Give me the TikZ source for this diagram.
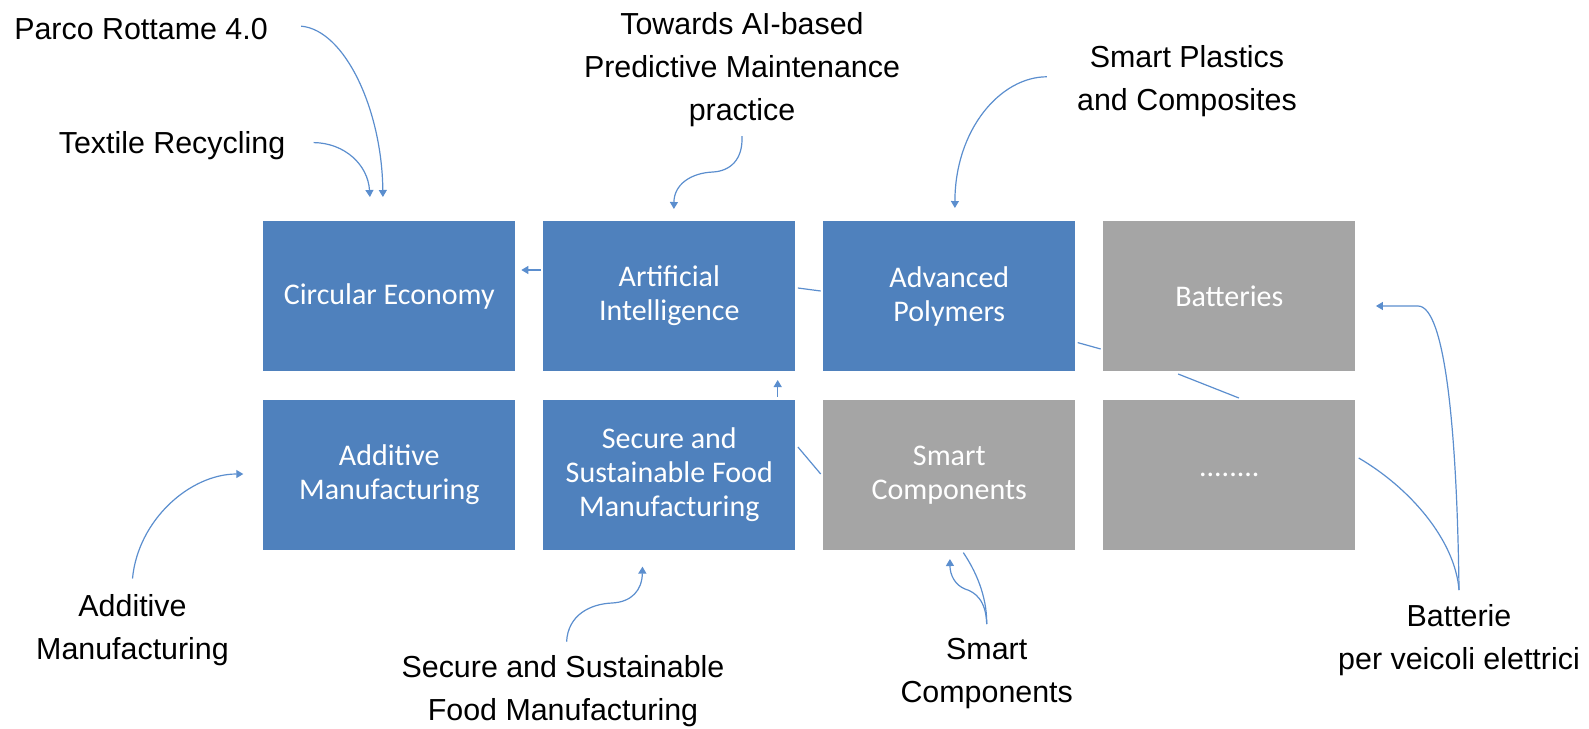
\documentclass[tikz,border=0pt]{standalone}
\usepackage{fontspec}
\setmainfont{Liberation Sans}
\newfontfamily\boxfont{Carlito}
\usetikzlibrary{positioning,arrows.meta}
\definecolor{accblue}{RGB}{79,129,189}
\definecolor{accgray}{RGB}{165,165,165}
\definecolor{linkblue}{RGB}{91,142,206}

\begin{document}
\begin{tikzpicture}
  [x=0.5pt, y=-0.5pt, node distance=14pt,
   box/.style={minimum width=126pt, minimum height=75pt, inner sep=2pt, outer sep=0pt,
     align=center, text=white, font=\boxfont\fontsize{15}{17}\selectfont},
   bluebox/.style={box, fill=accblue},
   graybox/.style={box, fill=accgray},
   lbl/.style={anchor=north, inner sep=0pt, align=center, font=\fontsize{15.2}{21.5}\selectfont},
   link/.style={draw=linkblue, line width=0.6pt},
   arr/.style={link, -{Triangle[width=4pt,length=3.5pt]}}]
  \useasboundingbox (0,0) rectangle (1589,728);

  \node[bluebox] (ce) at (389.3,296) {Circular Economy};
  \node[bluebox, right=of ce] (ai) {Artificial\\Intelligence};
  \node[bluebox, right=of ai] (ap) {Advanced\\Polymers};
  \node[graybox, right=of ap] (bat) {Batteries};
  \node[bluebox, below=14.5pt of ce] (am) {Additive\\Manufacturing};
  \node[bluebox, right=of am] (food) {Secure and\\Sustainable Food\\Manufacturing};
  \node[graybox, right=of food] (sc) {Smart\\Components};
  \node[graybox, right=of sc] (dots) {........};

  \node[lbl] (parco) at (141,18) {Parco Rottame 4.0};
  \node[lbl] (textile) at (172,131) {Textile Recycling};
  \node[lbl] (towards) at (742,12) {Towards AI-based\\Predictive Maintenance\\practice};
  \node[lbl] (plastics) at (1187,44.7) {Smart Plastics\\and Composites};
  \node[lbl] (addl) at (132.5,594.5) {Additive\\Manufacturing};
  \node[lbl] (secure) at (563,654.7) {Secure and Sustainable\\Food Manufacturing};
  \node[lbl] (smartc) at (986.7,638) {Smart\\Components};
  \node[lbl] (batl) at (1459,604) {Batterie\\per veicoli elettrici};

  \draw[arr] ([xshift=-1.3pt,yshift=13pt]ai.west) -- ([xshift=3pt,yshift=13pt]ce.east);
  \draw[link] ([xshift=1.3pt,yshift=4pt]ai.east) -- ([xshift=-1.3pt,yshift=2.5pt]ap.west);
  \draw[link] ([xshift=1.2pt,yshift=-23.3pt]ap.east) -- ([xshift=-1.3pt,yshift=-26.5pt]bat.west);
  \draw[link] ([xshift=-25.6pt,yshift=-1.5pt]bat.south) -- ([xshift=4.8pt,yshift=1pt]dots.north);
  \draw[arr] ([xshift=54.2pt,yshift=1.6pt]food.north) -- ([xshift=54.2pt,yshift=-4.5pt]ai.south);
  \draw[link] ([xshift=1.3pt,yshift=14pt]food.east) -- ([xshift=-1.3pt,yshift=0.5pt]sc.west);

  \draw[arr] ([xshift=16.5pt,yshift=1.5pt]parco.east) .. controls (345,30) and (382,110) .. ([xshift=-3.2pt,yshift=12pt]ce.north);
  \draw[arr] ([xshift=14pt,yshift=1.5pt]textile.east) .. controls (345,143) and (368,165) .. ([xshift=-9.7pt,yshift=12pt]ce.north);
  \draw[arr] ([yshift=-4.5pt]towards.south) .. controls (743,160) and (730,171) .. (713,172)
    .. controls (690,173) and (674,185) .. ([xshift=2.3pt,yshift=6pt]ai.north);
  \draw[arr] ([xshift=-15pt,yshift=2pt]plastics.west) .. controls (1000,77) and (955,130) .. ([xshift=2.8pt,yshift=6.5pt]ap.north);
  \draw[arr] ([yshift=8pt]addl.north) .. controls (138,520) and (190,474) .. ([xshift=-10pt,yshift=0.5pt]am.west);
  \draw[arr] ([xshift=1.8pt,yshift=6.5pt]secure.north) .. controls (568,615) and (590,604) .. (612,603)
    .. controls (632,602) and (642,590) .. ([xshift=-13.4pt,yshift=-8.3pt]food.south);
  \draw[arr] ([yshift=7pt]smartc.north) .. controls (986,600) and (975,592) .. (965,589)
    .. controls (955,585) and (950,575) .. ([xshift=0.3pt,yshift=-4.5pt]sc.south);
  \draw[link] ([yshift=7pt]smartc.north) .. controls (987,595) and (975,570) .. ([xshift=7pt,yshift=-1.3pt]sc.south);
  \draw[arr] ([yshift=7pt]batl.north) .. controls (1457,430) and (1445,306) .. (1418,306)
    -- ([xshift=10.3pt,yshift=-5pt]bat.east);
  \draw[link] ([yshift=7pt]batl.north) .. controls (1455,540) and (1410,488) .. ([xshift=1.7pt,yshift=8.5pt]dots.east);
\end{tikzpicture}
\end{document}
